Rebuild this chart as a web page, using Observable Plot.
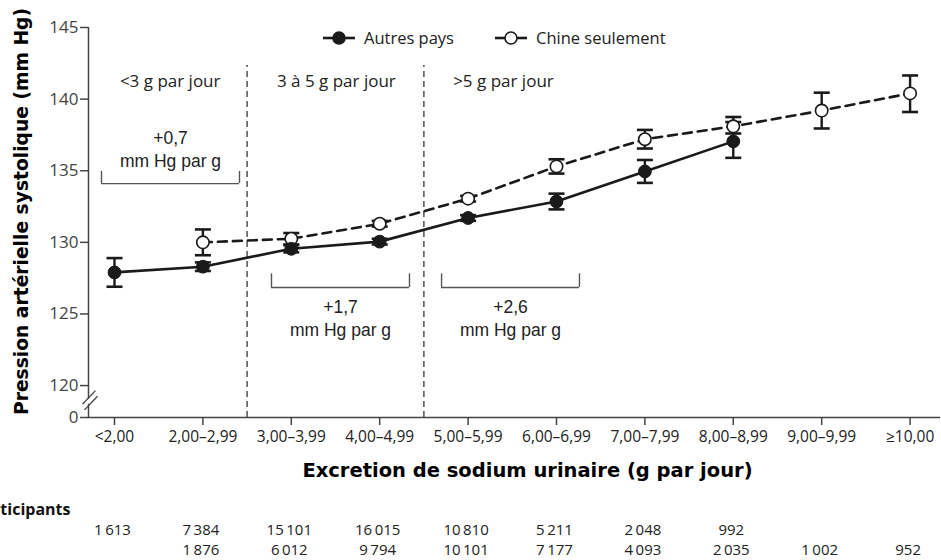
<!DOCTYPE html>
<html>
<head>
<meta charset="utf-8">
<script src="https://cdn.jsdelivr.net/npm/d3@7"></script>
<script src="https://cdn.jsdelivr.net/npm/@observablehq/plot@0.6"></script>
<style>
  html, body { margin: 0; padding: 0; background: #fff; }
  #wrap { position: relative; width: 941px; height: 560px; overflow: hidden; }
  #legend { position: absolute; top: 26px; left: 322px; display: flex; gap: 40px;
            font-family: "Open Sans", sans-serif; font-size: 16.5px; color: #222; align-items: center; }
  #legend .item { display: flex; align-items: center; gap: 8px; }
</style>
</head>
<body>
<div id="wrap">
  <div id="chart"></div>
  <div id="legend"></div>
</div>
<script>
// ---- data ----
const categories = ["<2,00", "2,00–2,99", "3,00–3,99", "4,00–4,99", "5,00–5,99",
                    "6,00–6,99", "7,00–7,99", "8,00–8,99", "9,00–9,99", "≥10,00"];

// Autres pays (filled)
const autresCats = categories.slice(0, 8);
const autresMean = [127.9, 128.3, 129.55, 130.05, 131.7, 132.85, 134.95, 137.05];
const autresLow  = [126.9, 128.0, 129.3, 129.85, 131.5, 132.3, 134.15, 135.9];
const autresHigh = [128.9, 128.6, 129.8, 130.25, 131.9, 133.4, 135.75, 138.4];
const autresN    = [1613, 7384, 15101, 16015, 10810, 5211, 2048, 992];

// Chine seulement (open)
const chineCats = categories.slice(1);
const chineMean = [130.0, 130.25, 131.3, 133.05, 135.3, 137.2, 138.1, 139.2, 140.4];
const chineLow  = [129.1, 129.85, 131.1, 132.85, 134.8, 136.55, 137.6, 137.95, 139.1];
const chineHigh = [130.9, 130.65, 131.5, 133.25, 135.8, 137.85, 138.75, 140.45, 141.65];
const chineN    = [1876, 6012, 9794, 10101, 7177, 4093, 2035, 1002, 952];

const seriesNames = ["Autres pays", "Chine seulement"];

// y axis (broken at bottom: lowest tick shown as 0)
const yTicks = [117.77, 120, 125, 130, 135, 140, 145];

// zone dividers (category index boundaries) and zone labels
const dividers = [1.5, 3.5];
const zoneLabels = ["<3 g par jour", "3 à 5 g par jour", ">5 g par jour"];
const zoneLabelX = [0.63, 2.51, 4.40];

// slope brackets (in category-index / mm Hg units)
const bracketFrom = [-0.147, 1.776, 3.70];
const bracketTo   = [1.414, 3.337, 5.26];
const bracketY    = [134.1, 126.85, 126.85];
const bracketTop  = [134.95, 127.8, 127.8];
const bracketText = ["+0,7\nmm Hg par g", "+1,7\nmm Hg par g", "+2,6\nmm Hg par g"];
const bracketTextY = [136.58, 124.75, 124.75];

const xLabel = "Excretion de sodium urinaire (g par jour)";
const yLabel = "Pression artérielle systolique (mm Hg)";
const participantsLabel = "Participants";

// ---- build tables ----
const idx = c => categories.indexOf(c);
const autres = autresCats.map((c, i) => ({i: idx(c), m: autresMean[i], lo: autresLow[i], hi: autresHigh[i], n: autresN[i]}));
const chine = chineCats.map((c, i) => ({i: idx(c), m: chineMean[i], lo: chineLow[i], hi: chineHigh[i], n: chineN[i]}));
const brackets = bracketFrom.map((x1, k) => ({x1, x2: bracketTo[k], y: bracketY[k], top: bracketTop[k],
  text: bracketText[k], ty: bracketTextY[k], xc: (x1 + bracketTo[k]) / 2}));
const bracketEnds = brackets.flatMap(b => [{x: b.x1, y1: b.y, y2: b.top}, {x: b.x2, y1: b.y, y2: b.top}]);

const xDomain = [-0.294, 9.344];
const yDomain = [yTicks[0], 145];
const dividerTop = 142.35;

const fmtN = n => d3.format(",")(n).replace(/,/g, "\u2009");

const cap = {draw(ctx, size) { const w = Math.sqrt(size / Math.PI); ctx.moveTo(-w, 0); ctx.lineTo(w, 0); }};

const ink = "#1a1a1a";
const annotFont = "Liberation Sans, Arial, sans-serif";
const titleFont = "DejaVu Sans, sans-serif";

const chart = Plot.plot({
  width: 941,
  height: 560,
  marginTop: 27,
  marginBottom: 143,
  marginLeft: 88,
  marginRight: 1,
  x: {type: "linear", domain: xDomain, axis: null},
  y: {type: "linear", domain: yDomain, axis: null},
  style: {fontFamily: "Open Sans, sans-serif", fontSize: "14px", color: "#222", background: "#fff", overflow: "visible"},
  marks: [
    // axes
    Plot.axisX({ticks: d3.range(categories.length), tickFormat: i => categories[i], tickSize: 8, tickPadding: 5,
                fontSize: 15.5, label: null, stroke: "#444", strokeWidth: 1.5, fill: "#222"}),
    Plot.axisY({ticks: yTicks, tickFormat: d => d < 119 ? "0" : d, tickSize: 8, tickPadding: 2,
                fontSize: 17, label: null, stroke: "#444", strokeWidth: 1.5, fill: "#444"}),
    Plot.ruleY([yDomain[0]], {stroke: "#444", strokeWidth: 1.5}),
    Plot.ruleX([{y1: 119.05, y2: 145}, {y1: yDomain[0], y2: 118.7}], {x: xDomain[0], y1: "y1", y2: "y2", stroke: "#444", strokeWidth: 1.5}),
    Plot.link([{x1: -0.362, y1: 118.7, x2: -0.215, y2: 119.65}, {x1: -0.339, y1: 118.3, x2: -0.192, y2: 119.25}],
              {x1: "x1", y1: "y1", x2: "x2", y2: "y2", stroke: "#444", strokeWidth: 1.3}),

    // zone dividers and labels
    Plot.ruleX(dividers, {y1: yDomain[0], y2: dividerTop, stroke: "#444", strokeWidth: 1.4, strokeDasharray: "6,4"}),
    Plot.text(zoneLabels, {x: (d, k) => zoneLabelX[k], y: 141.23, text: d => d, fontSize: 17, fill: "#222"}),

    // brackets
    Plot.ruleY(brackets, {x1: "x1", x2: "x2", y: "y", stroke: "#555", strokeWidth: 1.4}),
    Plot.ruleX(bracketEnds, {x: "x", y1: "y1", y2: "y2", stroke: "#555", strokeWidth: 1.4}),
    Plot.text(brackets, {x: "xc", y: "ty", text: "text", fontFamily: annotFont, fontSize: 17.5, lineHeight: 1.3, fill: "#222"}),

    // lines
    Plot.line(chine, {x: "i", y: "m", stroke: ink, strokeWidth: 2.6, strokeDasharray: "9,6"}),
    Plot.line(autres, {x: "i", y: "m", stroke: ink, strokeWidth: 2.6}),

    // error bars
    Plot.ruleX(chine, {x: "i", y1: "lo", y2: "hi", stroke: ink, strokeWidth: 2.4}),
    Plot.dot(chine, {x: "i", y: "lo", symbol: cap, r: 8, stroke: ink, strokeWidth: 2.6}),
    Plot.dot(chine, {x: "i", y: "hi", symbol: cap, r: 8, stroke: ink, strokeWidth: 2.6}),
    Plot.ruleX(autres, {x: "i", y1: "lo", y2: "hi", stroke: ink, strokeWidth: 2.4}),
    Plot.dot(autres, {x: "i", y: "lo", symbol: cap, r: 8, stroke: ink, strokeWidth: 2.6}),
    Plot.dot(autres, {x: "i", y: "hi", symbol: cap, r: 8, stroke: ink, strokeWidth: 2.6}),

    // markers
    Plot.dot(chine, {x: "i", y: "m", r: 6.2, fill: "#fff", stroke: ink, strokeWidth: 1.6}),
    Plot.dot(autres, {x: "i", y: "m", r: 6.4, fill: ink, stroke: ink, strokeWidth: 1}),

    // axis titles
    Plot.text([xLabel], {frameAnchor: "bottom", lineAnchor: "middle", textAnchor: "middle", dx: 13, dy: 53, text: d => d,
                         fontFamily: titleFont, fontWeight: "bold", fontSize: 19.5, fill: "#000"}),
    Plot.text([yLabel], {frameAnchor: "left", lineAnchor: "middle", textAnchor: "middle", rotate: -90, dx: -66, dy: -11, text: d => d,
                         fontFamily: titleFont, fontWeight: "bold", fontSize: 18.7, fill: "#000"}),

    // participants table
    Plot.text([participantsLabel], {frameAnchor: "bottom-left", lineAnchor: "middle", textAnchor: "end", dx: -18, dy: 92,
                                    text: d => d, fontWeight: "bold", fontSize: 16, fill: "#111"}),
    Plot.text(autres, {x: "i", frameAnchor: "bottom", lineAnchor: "middle", dx: -2, dy: 113, text: d => fmtN(d.n), fontSize: 15, fill: "#222"}),
    Plot.text(chine, {x: "i", frameAnchor: "bottom", lineAnchor: "middle", dx: -2, dy: 133, text: d => fmtN(d.n), fontSize: 15, fill: "#222"})
  ]
});
document.getElementById("chart").appendChild(chart);

// legend
const legend = document.getElementById("legend");
seriesNames.forEach((name, k) => {
  const item = document.createElement("div");
  item.className = "item";
  item.innerHTML = `<svg width="34" height="16" viewBox="0 0 34 16"><line x1="1" y1="8" x2="33" y2="8" stroke="${ink}" stroke-width="2.6"/>` +
    `<circle cx="17" cy="8" r="6" fill="${k === 0 ? ink : "#fff"}" stroke="${ink}" stroke-width="1.6"/></svg><span>${name}</span>`;
  legend.appendChild(item);
});
</script>
</body>
</html>
